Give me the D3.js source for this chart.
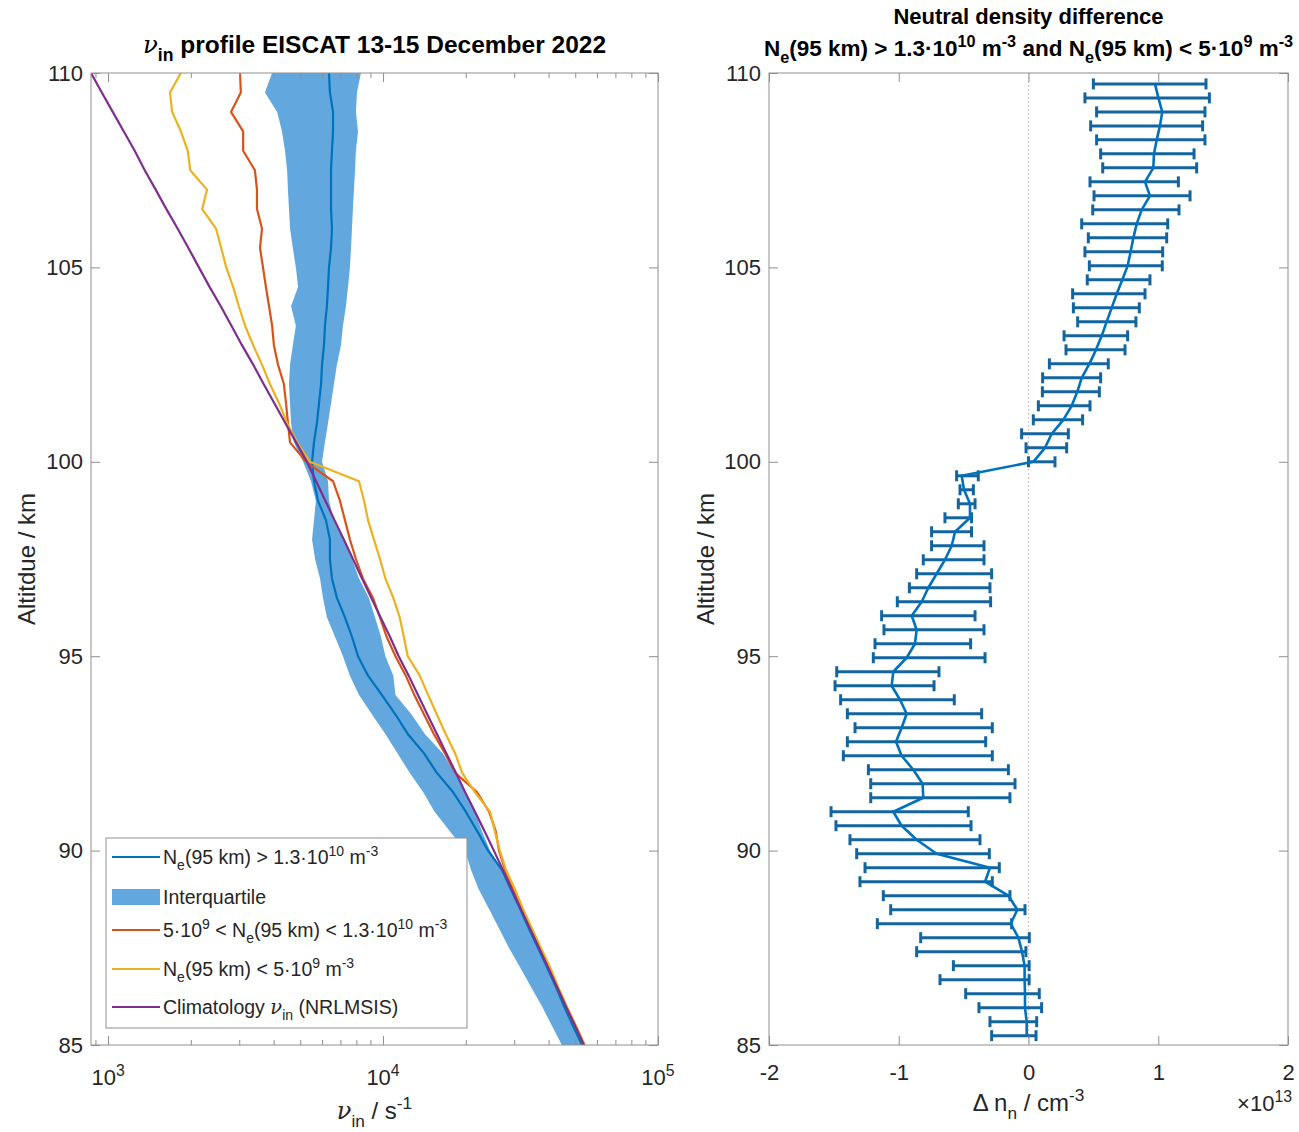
<!DOCTYPE html>
<html><head><meta charset="utf-8">
<script src="https://cdn.jsdelivr.net/npm/d3@7/dist/d3.min.js"></script>
<style>
html,body{margin:0;padding:0;background:#fff;}
svg text{font-family:"Liberation Sans",Arial,Helvetica,sans-serif;white-space:pre;}
</style></head>
<body>
<svg id="chart" width="1299" height="1132"></svg>
<script>
// ================= DATA =================
// Left panel: ion-neutral collision frequency profiles (s^-1) vs altitude (km)
const profileAlt = [85,85.5,86,86.5,87,87.5,88,88.5,89,89.5,90,90.5,91,91.5,92,92.5,93,93.5,94,94.5,95,95.5,96,96.5,97,97.5,98,98.5,99,99.5,100,100.5,101,101.5,102,102.5,103,103.5,104,104.5,105,105.5,106,106.5,107,107.5,108,108.5,109,109.5,110];
const nuClimatology = [53800,49900,46200,42900,39800,36900,34200,31700,29400,27300,25300,23400,21600,19900,18400,17000,15700,14500,13400,12400,11400,10600,9790,9060,8390,7770,7200,6660,6170,5710,5290,4830,4410,4030,3680,3370,3070,2810,2570,2340,2140,1960,1790,1630,1490,1360,1250,1140,1040,949,867];
const nuHighMedian = [52900,49000,45500,42500,39500,36600,33900,31500,29200,27100,24100,22000,20000,18000,15700,14100,12300,11100,9910,8820,8110,7710,7270,6800,6520,6410,6410,6200,5800,5610,5520,5610,5750,5850,5950,6000,6100,6150,6250,6310,6360,6470,6520,6470,6470,6470,6520,6580,6580,6410,6360];
const nuHighQ1 = [44700,41100,37800,34500,31500,28700,26400,24300,22300,20900,19900,17500,15400,14000,12500,11300,10200,9120,8180,7580,7150,6690,6250,6050,5900,5660,5520,5610,5700,5470,5120,4740,4630,4590,4550,4590,4700,4820,4630,4910,4820,4700,4590,4550,4510,4480,4400,4290,4120,3720,3950];
const nuHighQ3 = [53800,49500,45900,42500,39800,36900,34200,31700,29700,27100,24500,22900,21600,19900,18300,16500,14200,12700,11100,10900,10200,9830,9350,8890,8180,7710,7150,6630,6360,6310,6000,6150,6310,6470,6630,6800,7030,7150,7330,7460,7580,7650,7710,7770,7840,7910,7970,8110,7970,8040,8310];
const nuMid = [53800,49900,46300,42900,40100,37200,34500,32000,29700,27800,26400,25700,24300,22000,18300,16800,15300,14100,13000,12100,11100,10300,9750,9190,8450,7970,7580,7270,6970,6580,5250,4590,4510,4440,4360,4150,4010,3950,3850,3750,3660,3570,3630,3480,3480,3420,3100,3100,2800,3040,3020];
const nuLow = [54200,50300,46600,43300,40500,37500,34800,32300,30200,28000,26600,25500,24500,21600,19400,18300,16900,15700,14600,13600,12300,11900,11500,10900,10200,9750,9270,8820,8530,8180,5420,4870,4480,4190,3880,3630,3370,3150,2990,2850,2690,2580,2470,2200,2290,1990,1950,1840,1710,1680,1840];
const nuDomain = [867, 1e5];
const nuTicks = [1e3, 1e4, 1e5];
const nuTickLabels = ["10^{3}", "10^{4}", "10^{5}"];
const nuMinorTicks = [900,2000,3000,4000,5000,6000,7000,8000,9000,20000,30000,40000,50000,60000,70000,80000,90000];
const altDomain = [85, 110];
const altTicks = [85, 90, 95, 100, 105, 110];

// Right panel: neutral density difference (units of 1e13 cm^-3)
const diffAlt = [85.24,85.60,85.96,86.32,86.68,87.04,87.40,87.76,88.12,88.48,88.84,89.20,89.56,89.92,90.28,90.64,91.00,91.36,91.72,92.08,92.44,92.80,93.16,93.52,93.88,94.24,94.60,94.96,95.32,95.68,96.04,96.40,96.76,97.12,97.48,97.84,98.20,98.56,98.92,99.28,99.64,100.00,100.36,100.72,101.08,101.44,101.80,102.16,102.52,102.88,103.24,103.60,103.96,104.32,104.68,105.04,105.40,105.76,106.12,106.48,106.84,107.20,107.56,107.92,108.28,108.64,109.00,109.36,109.72];
const diffMean = [-0.014,-0.014,-0.027,-0.027,-0.03,-0.03,-0.05,-0.078,-0.137,-0.086,-0.155,-0.335,-0.297,-0.708,-0.862,-0.978,-1.042,-0.811,-0.816,-0.888,-0.978,-1.021,-0.978,-0.939,-0.990,-1.055,-1.042,-0.939,-0.875,-0.862,-0.900,-0.823,-0.772,-0.708,-0.644,-0.592,-0.566,-0.451,-0.451,-0.497,-0.515,0.037,0.127,0.179,0.268,0.333,0.376,0.410,0.469,0.520,0.564,0.602,0.641,0.680,0.723,0.764,0.787,0.808,0.834,0.872,0.936,0.898,0.962,0.967,0.988,1.013,1.031,1.001,0.975];
const diffLower = [-0.284,-0.297,-0.382,-0.484,-0.682,-0.579,-0.862,-0.831,-1.165,-1.062,-1.119,-1.299,-1.260,-1.324,-1.376,-1.484,-1.522,-1.216,-1.216,-1.234,-1.427,-1.396,-1.337,-1.396,-1.448,-1.491,-1.478,-1.196,-1.183,-1.114,-1.132,-1.011,-0.918,-0.862,-0.811,-0.747,-0.747,-0.644,-0.541,-0.528,-0.554,0.000,-0.019,-0.053,0.037,0.076,0.107,0.109,0.161,0.289,0.274,0.379,0.346,0.340,0.453,0.469,0.435,0.461,0.410,0.495,0.505,0.474,0.572,0.556,0.525,0.479,0.525,0.435,0.500];
const diffUpper = [0.058,0.063,0.101,0.083,0.005,0.005,-0.02,0.006,-0.130,-0.027,-0.143,-0.279,-0.225,-0.302,-0.374,-0.443,-0.464,-0.143,-0.104,-0.155,-0.279,-0.330,-0.279,-0.361,-0.572,-0.728,-0.690,-0.335,-0.446,-0.343,-0.412,-0.292,-0.297,-0.284,-0.343,-0.343,-0.439,-0.439,-0.412,-0.425,-0.387,0.204,0.294,0.307,0.417,0.474,0.546,0.556,0.615,0.744,0.764,0.828,0.854,0.898,0.936,1.031,1.034,1.065,1.073,1.160,1.245,1.155,1.296,1.276,1.360,1.342,1.360,1.394,1.368];
const diffDomain = [-2, 2];
const diffTicks = [-2, -1, 0, 1, 2];
const diffExponent = 13;

// ================= STYLE / LAYOUT =================
const AX = "#8f8f8f", TXT = "#262626";
const C_BLUE = "#0072BD", C_BAR = "#14649e", C_BAND = "#62a8de", C_ORANGE = "#D95319", C_YELLOW = "#EDB120", C_PURPLE = "#7E2F8E";
const TICK_FS = 22, LABEL_FS = 24, TITLE_FS = 24.5, TITLE2_FS = 22.5, LEG_FS = 19.5;
const PL = {x0: 91, x1: 658, y0: 73, y1: 1045};
const PR = {x0: 769, x1: 1288, y0: 73, y1: 1045};

const svg = d3.select("#chart");

function parseTex(s){
  const parts = []; let buf = ""; let i = 0;
  const flush = () => { if (buf) { parts.push({t: buf}); buf = ""; } };
  while (i < s.length) {
    const c = s[i];
    if ((c === "_" || c === "^") && s[i+1] === "{") {
      flush();
      const j = s.indexOf("}", i);
      parts.push({t: s.slice(i+2, j), sub: c === "_", sup: c === "^"});
      i = j + 1; continue;
    }
    if (c === "ν") { flush(); parts.push({t: "ν", greek: true}); i++; continue; }
    buf += c; i++;
  }
  flush();
  return parts;
}
function rich(g, x, y, s, o = {}){
  const fs = o.size || TICK_FS;
  const t = g.append("text")
    .attr("transform", `translate(${x},${y})` + (o.rotate ? ` rotate(${o.rotate})` : ""))
    .attr("font-size", fs).attr("text-anchor", o.anchor || "start").attr("fill", o.fill || TXT);
  if (o.bold) t.attr("font-weight", "bold");
  let off = 0;
  parseTex(s).forEach(p => {
    const target = p.sub ? 0.32*fs : (p.sup ? -0.42*fs : 0);
    const ts = t.append("tspan").attr("dy", (target - off).toFixed(2)).text(p.t);
    if (p.sub || p.sup) ts.attr("font-size", (0.72*fs).toFixed(1));
    if (p.greek) ts.attr("font-family", '"DejaVu Serif",serif').attr("font-style", "italic").attr("font-weight", "normal");
    off = target;
  });
  return t;
}
function styleAxis(a){
  a.select(".domain").remove();
  a.selectAll(".tick line").attr("stroke", AX).attr("stroke-width", 1);
  a.selectAll(".tick text").attr("font-size", TICK_FS).attr("fill", TXT)
   .attr("font-family", '"Liberation Sans",Arial,Helvetica,sans-serif');
}

// ================= LEFT PANEL =================
const xL = d3.scaleLog().domain(nuDomain).range([PL.x0, PL.x1]);
const yL = d3.scaleLinear().domain(altDomain).range([PL.y1, PL.y0]);
const gL = svg.append("g");
svg.append("defs").append("clipPath").attr("id", "clipL")
  .append("rect").attr("x", PL.x0).attr("y", PL.y0).attr("width", PL.x1-PL.x0).attr("height", PL.y1-PL.y0);

const idx = d3.range(profileAlt.length);
const plotL = gL.append("g").attr("clip-path", "url(#clipL)");
plotL.append("path").datum(idx)
  .attr("d", d3.area().y(i => yL(profileAlt[i])).x0(i => xL(nuHighQ1[i])).x1(i => xL(nuHighQ3[i])))
  .attr("fill", C_BAND).attr("stroke", "none");
function prof(arr, color){
  plotL.append("path").datum(idx)
    .attr("d", d3.line().x(i => xL(arr[i])).y(i => yL(profileAlt[i])))
    .attr("fill", "none").attr("stroke", color).attr("stroke-width", 2.2).attr("stroke-linejoin", "round");
}
prof(nuHighMedian, C_BLUE);
prof(nuMid, C_ORANGE);
prof(nuLow, C_YELLOW);
prof(nuClimatology, C_PURPLE);

// axes
styleAxis(gL.append("g").attr("transform", `translate(0,${PL.y1})`)
  .call(d3.axisBottom(xL).tickValues(nuTicks).tickSizeInner(-9).tickSizeOuter(0).tickFormat("")));
styleAxis(gL.append("g").attr("transform", `translate(0,${PL.y1})`)
  .call(d3.axisBottom(xL).tickValues(nuMinorTicks).tickSizeInner(-5).tickSizeOuter(0).tickFormat("")));
styleAxis(gL.append("g").attr("transform", `translate(0,${PL.y0})`)
  .call(d3.axisTop(xL).tickValues(nuTicks).tickSizeInner(-9).tickSizeOuter(0).tickFormat("")));
styleAxis(gL.append("g").attr("transform", `translate(0,${PL.y0})`)
  .call(d3.axisTop(xL).tickValues(nuMinorTicks).tickSizeInner(-5).tickSizeOuter(0).tickFormat("")));
styleAxis(gL.append("g").attr("transform", `translate(${PL.x0},0)`)
  .call(d3.axisLeft(yL).tickValues(altTicks).tickSizeInner(-9).tickSizeOuter(0).tickPadding(8).tickFormat(d => String(d))));
styleAxis(gL.append("g").attr("transform", `translate(${PL.x1},0)`)
  .call(d3.axisRight(yL).tickValues(altTicks).tickSizeInner(-9).tickSizeOuter(0).tickFormat("")));
gL.append("rect").attr("x", PL.x0).attr("y", PL.y0).attr("width", PL.x1-PL.x0).attr("height", PL.y1-PL.y0)
  .attr("fill", "none").attr("stroke", AX).attr("stroke-width", 1);
nuTicks.forEach((v, k) => rich(gL, xL(v), 1085, nuTickLabels[k], {anchor: "middle"}));

rich(gL, (PL.x0+PL.x1)/2, 1119, "ν_{in} / s^{-1}", {anchor: "middle", size: LABEL_FS});
rich(gL, 35, (PL.y0+PL.y1)/2, "Altitdue / km", {anchor: "middle", size: LABEL_FS, rotate: -90});
rich(gL, (PL.x0+PL.x1)/2, 53, "ν_{in} profile EISCAT 13-15 December 2022", {anchor: "middle", size: TITLE_FS, bold: true, fill: "#000"});

// legend
const leg = gL.append("g");
leg.append("rect").attr("x", 106).attr("y", 838).attr("width", 361).attr("height", 190)
  .attr("fill", "#fff").attr("stroke", AX).attr("stroke-width", 1);
const legItems = [
  {y: 857, type: "line", color: C_BLUE, text: "N_{e}(95 km) > 1.3·10^{10} m^{-3}"},
  {y: 897, type: "patch", color: C_BAND, text: "Interquartile"},
  {y: 930, type: "line", color: C_ORANGE, text: "5·10^{9} < N_{e}(95 km) < 1.3·10^{10} m^{-3}"},
  {y: 969, type: "line", color: C_YELLOW, text: "N_{e}(95 km) < 5·10^{9} m^{-3}"},
  {y: 1007, type: "line", color: C_PURPLE, text: "Climatology ν_{in} (NRLMSIS)"}
];
legItems.forEach(it => {
  if (it.type === "line") leg.append("line").attr("x1", 112).attr("x2", 160).attr("y1", it.y).attr("y2", it.y)
      .attr("stroke", it.color).attr("stroke-width", 2.2);
  else leg.append("rect").attr("x", 112).attr("y", it.y-8).attr("width", 48).attr("height", 16).attr("fill", it.color);
  rich(leg, 163, it.y + 7, it.text, {size: LEG_FS});
});

// ================= RIGHT PANEL =================
const xR = d3.scaleLinear().domain(diffDomain).range([PR.x0, PR.x1]);
const yR = d3.scaleLinear().domain(altDomain).range([PR.y1, PR.y0]);
const gR = svg.append("g");

gR.append("line").attr("x1", xR(0)).attr("x2", xR(0)).attr("y1", PR.y0).attr("y2", PR.y1)
  .attr("stroke", "#dcaab4").attr("stroke-width", 1.2).attr("stroke-dasharray", "1.5,2.5");

const didx = d3.range(diffAlt.length);
const bars = gR.append("g").attr("stroke", C_BAR).attr("stroke-width", 3);
bars.selectAll("line.bar").data(didx).join("line").attr("class", "bar")
  .attr("x1", i => xR(diffLower[i])).attr("x2", i => xR(diffUpper[i]))
  .attr("y1", i => yR(diffAlt[i])).attr("y2", i => yR(diffAlt[i]));
bars.selectAll("line.capL").data(didx).join("line").attr("class", "capL")
  .attr("x1", i => xR(diffLower[i])).attr("x2", i => xR(diffLower[i]))
  .attr("y1", i => yR(diffAlt[i]) - 5.5).attr("y2", i => yR(diffAlt[i]) + 5.5);
bars.selectAll("line.capR").data(didx).join("line").attr("class", "capR")
  .attr("x1", i => xR(diffUpper[i])).attr("x2", i => xR(diffUpper[i]))
  .attr("y1", i => yR(diffAlt[i]) - 5.5).attr("y2", i => yR(diffAlt[i]) + 5.5);
gR.append("path").datum(didx)
  .attr("d", d3.line().x(i => xR(diffMean[i])).y(i => yR(diffAlt[i])))
  .attr("fill", "none").attr("stroke", C_BLUE).attr("stroke-width", 2.6).attr("stroke-linejoin", "round");

const axB = gR.append("g").attr("transform", `translate(0,${PR.y1})`)
  .call(d3.axisBottom(xR).tickValues(diffTicks).tickSizeInner(-9).tickSizeOuter(0).tickPadding(19).tickFormat(d => String(d)));
styleAxis(axB);
styleAxis(gR.append("g").attr("transform", `translate(0,${PR.y0})`)
  .call(d3.axisTop(xR).tickValues(diffTicks).tickSizeInner(-9).tickSizeOuter(0).tickFormat("")));
styleAxis(gR.append("g").attr("transform", `translate(${PR.x0},0)`)
  .call(d3.axisLeft(yR).tickValues(altTicks).tickSizeInner(-9).tickSizeOuter(0).tickPadding(8).tickFormat(d => String(d))));
styleAxis(gR.append("g").attr("transform", `translate(${PR.x1},0)`)
  .call(d3.axisRight(yR).tickValues(altTicks).tickSizeInner(-9).tickSizeOuter(0).tickFormat("")));
gR.append("rect").attr("x", PR.x0).attr("y", PR.y0).attr("width", PR.x1-PR.x0).attr("height", PR.y1-PR.y0)
  .attr("fill", "none").attr("stroke", AX).attr("stroke-width", 1);

rich(gR, (PR.x0+PR.x1)/2, 1111, "Δ n_{n} / cm^{-3}", {anchor: "middle", size: LABEL_FS});
rich(gR, 1292, 1111, "×10^{" + diffExponent + "}", {anchor: "end", size: TICK_FS});
rich(gR, 714, (PR.y0+PR.y1)/2, "Altitude / km", {anchor: "middle", size: LABEL_FS, rotate: -90});
rich(gR, (PR.x0+PR.x1)/2, 24, "Neutral density difference", {anchor: "middle", size: 22, bold: true, fill: "#000"});
rich(gR, (PR.x0+PR.x1)/2, 56, "N_{e}(95 km) > 1.3·10^{10} m^{-3} and N_{e}(95 km) < 5·10^{9} m^{-3}", {anchor: "middle", size: TITLE2_FS, bold: true, fill: "#000"});
</script>
</body></html>
